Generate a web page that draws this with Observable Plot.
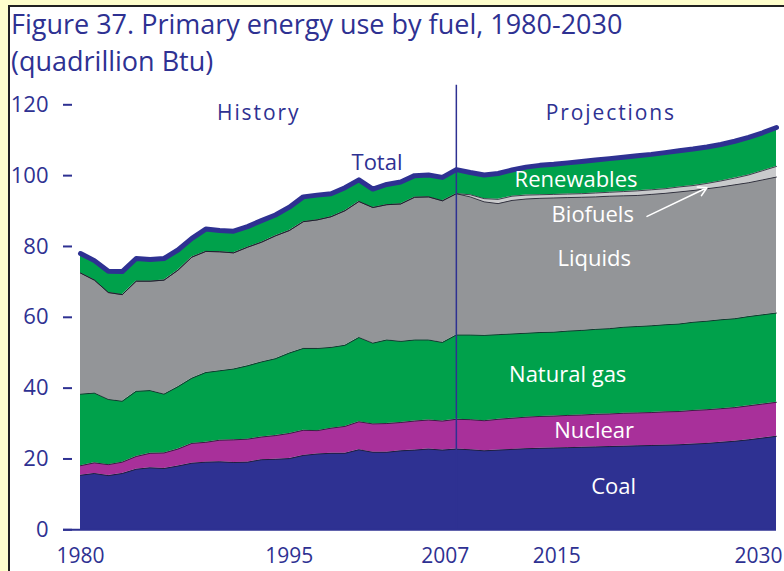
<!DOCTYPE html>
<html>
<head>
<meta charset="utf-8">
<script src="https://cdn.jsdelivr.net/npm/d3@7"></script>
<script src="https://cdn.jsdelivr.net/npm/@observablehq/plot@0.6"></script>
<style>
  html, body { margin: 0; padding: 0; width: 784px; height: 571px; overflow: hidden; background: #FFFFCC; }
  #panel { position: absolute; left: 8px; top: 5px; width: 800px; height: 600px; background: #fff;
           border-left: 2px solid #222; border-top: 2px solid #222; }
  #title { position: absolute; left: 11px; top: 5px; font-family: "Open Sans", sans-serif; font-size: 27px;
           line-height: 37px; color: #2E3192; white-space: nowrap; }
  #chart { position: absolute; left: 0; top: 80px; }
</style>
</head>
<body>
<div id="panel"></div>
<div id="title">Figure 37. Primary energy use by fuel, 1980-2030<br>(quadrillion Btu)</div>
<div id="chart"></div>
<script>
// ---- data (quadrillion Btu), years 1980..2030 ----
const years = d3.range(1980, 2031);
const coal = [15.4,15.9,15.3,15.9,17.1,17.5,17.3,18.0,18.8,19.1,19.2,19.0,19.1,19.8,19.9,20.1,21.0,21.4,21.6,21.6,22.6,21.9,21.9,22.3,22.5,22.8,22.5,22.8,
              22.6,22.3,22.5,22.7,22.9,23.0,23.1,23.2,23.3,23.4,23.5,23.6,23.7,23.8,23.9,24.0,24.2,24.4,24.7,25.0,25.4,25.9,26.4];
const nuclear = [2.7,3.0,3.1,3.2,3.6,4.1,4.4,4.8,5.6,5.6,6.1,6.4,6.5,6.4,6.7,7.1,7.1,6.6,7.1,7.6,7.9,8.0,8.1,8.0,8.2,8.2,8.2,8.4,
              8.5,8.5,8.7,8.8,8.9,9.0,9.0,9.1,9.1,9.2,9.2,9.3,9.3,9.3,9.4,9.4,9.5,9.5,9.5,9.5,9.6,9.6,9.6];
const naturalGas = [20.2,19.7,18.4,17.2,18.4,17.7,16.6,17.6,18.4,19.7,19.6,20.0,20.7,21.2,21.7,22.7,23.1,23.2,22.8,22.9,23.8,22.8,23.6,22.9,22.9,22.6,22.2,23.8,
              23.9,24.1,23.9,23.8,23.7,23.7,23.7,23.8,23.9,24.0,24.1,24.3,24.4,24.5,24.6,24.7,24.9,25.0,25.1,25.1,25.2,25.2,25.2];
const liquids = [34.2,31.9,30.2,30.1,31.1,30.9,32.2,32.9,34.2,34.2,33.6,32.8,33.5,33.8,34.7,34.6,35.8,36.3,36.9,38.0,38.4,38.3,38.2,38.8,40.3,40.4,40.0,39.9,
              39.0,37.7,37.0,37.7,37.9,37.9,37.9,37.7,37.6,37.4,37.4,37.1,37.0,37.1,37.1,37.3,37.2,37.4,37.5,37.8,37.8,38.1,38.4];
const biofuels = [0,0,0,0,0,0,0,0,0,0,0,0,0,0,0,0,0,0,0,0,0,0,0,0,0,0,0,0,
              0.6,0.9,1.2,1.2,1.1,1.0,1.0,1.0,1.0,1.1,1.1,1.2,1.3,1.3,1.3,1.4,1.4,1.5,1.7,1.9,2.2,2.6,3.0];
const renewables = [5.5,5.5,6.0,6.5,6.4,6.1,6.1,5.7,5.3,6.3,6.0,6.1,5.8,6.1,5.9,6.6,7.0,7.0,6.5,6.5,6.1,5.2,5.7,6.2,6.1,6.2,6.6,6.8,
              6.3,6.7,7.3,7.4,7.9,8.3,8.5,8.8,9.1,9.3,9.5,9.7,9.9,10.0,10.2,10.2,10.3,10.3,10.3,10.4,10.6,10.7,11.0];

const fuels = ["Coal", "Nuclear", "Natural gas", "Liquids", "Biofuels", "Renewables"];
const series = [coal, nuclear, naturalGas, liquids, biofuels, renewables];
const fuelColors = ["#2E3192", "#A8309A", "#00A14B", "#939598", "#C9CACC", "#00A14B"];

const yTicks = [0, 20, 40, 60, 80, 100, 120];
const xTicksLeft = [1980, 1995];
const xTicksMid = [2007, 2015];
const xTicksEnd = [2030];
const dividerYear = 2007;

// annotation texts (positions in data units)
const headLabels = [
  {text: "History", year: 1992.8, value: 117.6},
  {text: "Projections", year: 2018.1, value: 117.6}
];
const totalLabel = [{text: "Total", year: 2001.3, value: 103.5}];
const areaLabels = [
  {text: "Renewables", year: 2015.6, value: 98.7},
  {text: "Biofuels", year: 2016.8, value: 88.8},
  {text: "Liquids", year: 2016.9, value: 76.6},
  {text: "Natural gas", year: 2015.0, value: 43.6},
  {text: "Nuclear", year: 2016.9, value: 27.8},
  {text: "Coal", year: 2018.3, value: 12.2}
];
const biofuelArrow = [{x1: 2020.7, y1: 88.5, x2: 2025.0, y2: 96.6}];

// ---- build tables ----
const rows = [];
fuels.forEach((f, i) => years.forEach((yr, j) => rows.push({year: yr, fuel: f, value: series[i][j]})));
const totals = years.map((yr, j) => ({year: yr, total: d3.sum(series, s => s[j])}));

const FONT = "'Open Sans', sans-serif";
const NAVY = "#2E3192";
const xAxisOpts = {tickSize: 0, tickPadding: 18, fontSize: 21, tickFormat: d => String(d), label: null};

const chart = Plot.plot({
  width: 784,
  height: 491,
  marginLeft: 80,
  marginRight: 8,
  marginTop: 24.3,
  marginBottom: 41.7,
  x: {domain: [1980, 2030]},
  y: {domain: [0, 120]},
  color: {domain: fuels, range: fuelColors},
  style: {background: "transparent", fontFamily: FONT, color: NAVY, overflow: "visible"},
  marks: [
    Plot.areaY(rows, {x: "year", y: "value", z: "fuel", fill: "fuel", order: fuels}),
    Plot.lineY(rows, Plot.stackY2({x: "year", y: "value", z: "fuel", order: fuels, stroke: "#1a1a2a", strokeWidth: 0.8})),
    Plot.lineY(totals, {x: "year", y: "total", stroke: NAVY, strokeWidth: 5, strokeLinejoin: "round"}),
    Plot.ruleX([dividerYear], {y1: 0, y2: 125.5, stroke: NAVY, strokeWidth: 1.5}),
    Plot.ruleY([0], {stroke: NAVY, strokeWidth: 2, insetLeft: -17}),
    Plot.axisY({ticks: yTicks, tickSize: 9, tickPadding: 15, dx: -8, fontSize: 22, strokeWidth: 2, tickFormat: d => String(d), label: null}),
    Plot.axisX({ticks: xTicksLeft, ...xAxisOpts}),
    Plot.axisX({ticks: xTicksMid, ...xAxisOpts, dx: -11}),
    Plot.axisX({ticks: xTicksEnd, ...xAxisOpts, textAnchor: "end", dx: 6}),
    Plot.text(headLabels, {x: "year", y: "value", text: "text", fill: NAVY, fontSize: 21, fontFamily: FONT}),
    Plot.text(totalLabel, {x: "year", y: "value", text: "text", fill: NAVY, fontSize: 22, fontFamily: FONT}),
    Plot.text(areaLabels, {x: "year", y: "value", text: "text", fill: "white", fontSize: 22, fontFamily: FONT}),
    Plot.arrow(biofuelArrow, {x1: "x1", y1: "y1", x2: "x2", y2: "y2", stroke: "white", strokeWidth: 1.6, headLength: 9})
  ]
});
// spaced lettering of the period headings
chart.querySelectorAll("text").forEach(t => {
  if (headLabels.some(h => h.text === t.textContent)) t.style.letterSpacing = "1.9px";
});
document.getElementById("chart").appendChild(chart);
</script>
</body>
</html>
